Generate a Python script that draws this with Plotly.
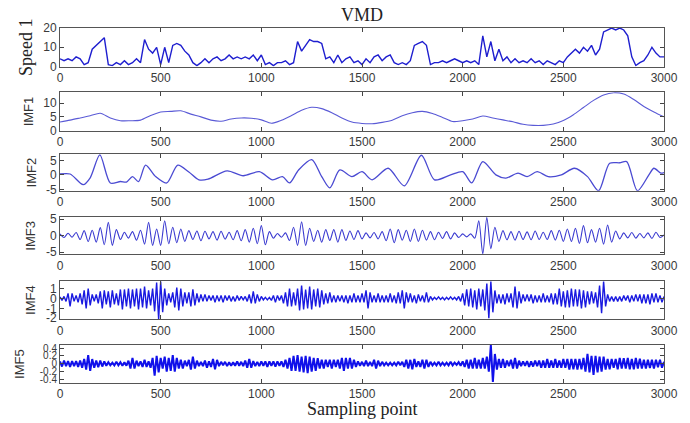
import plotly.graph_objects as go

# ---------------- data ----------------
speed_step = 20
speed1 = [4, 3, 4, 3, 5, 4, 1, 2, 9, 11, 13, 15, 1, 0.5, 2, 1, 3, 1, 2, 4,
          2, 14, 9, 7, 10, 1, 10, 2, 11, 12, 11, 8, 6, 2, 0.5, 2, 4, 2, 4, 5,
          3, 4, 6, 4, 5, 4, 5, 4, 6, 3, 6, 1, 2, 0.5, 2, 2, 3, 1, 2, 13,
          8, 11, 14, 13, 13, 12, 4, 5, 2, 6, 2, 4, 5, 2, 3, 1, 4, 2, 5, 6,
          3, 5, 6, 2, 1, 2, 1, 3, 11, 12, 13, 11, 1, 2, 2, 3, 2, 3, 4, 3,
          2, 3, 2, 3, 1, 16, 5, 13, 3, 9, 3, 5, 2, 4, 2, 3, 2, 4, 2, 3,
          1, 3, 2, 1, 3, 2, 5, 7, 9, 7, 10, 8, 11, 6, 9, 18, 19, 20, 19, 20,
          19, 16, 5, 0.5, 2, 3, 6, 10, 7, 5, 5]

imf1_step = 50
imf1 = [3.1, 3.8, 4.6, 5.4, 6.3, 4.6, 3.6, 3.6, 3.8, 5.5, 6.8, 7.0, 7.2, 6.0, 5.0,
        3.8, 3.4, 4.2, 4.6, 4.5, 3.9, 2.7, 3.8, 5.5, 7.4, 8.5, 8.0, 6.5, 4.6, 3.1,
        2.6, 2.5, 3.0, 3.8, 5.4, 6.5, 7.0, 6.2, 4.8, 3.3, 3.6, 4.2, 5.3, 4.6, 3.9,
        3.2, 2.3, 1.9, 1.9, 2.4, 3.7, 5.8, 8.4, 11.0, 13.0, 13.8, 13.3, 11.3, 8.8, 6.8,
        5.0]

imf2_x = [0, 50, 115, 150, 198, 250, 300, 330, 360, 390, 425, 475, 530, 585, 640,
          690, 735, 830, 910, 990, 1056, 1105, 1140, 1185, 1250, 1300, 1340, 1390,
          1450, 1500, 1550, 1630, 1710, 1795, 1860, 1940, 2000, 2045, 2100, 2165,
          2215, 2275, 2320, 2370, 2425, 2490, 2555, 2620, 2675, 2730, 2780, 2815,
          2868, 2925, 2950, 2985, 3000]
imf2_y = [0.3, 0.3, -3.4, -1.0, 6.9, -2.8, -2.3, -2.5, -0.6, -2.3, 3.4, -0.6, -2.8,
          3.4, 1.0, -1.7, -1.5, 1.4, -0.3, 1.1, -1.7, -0.6, -2.8, 1.7, 5.3, -0.6,
          -4.5, 1.7, -0.6, 1.1, -1.7, 2.3, -3.8, 6.8, -1.7, 0.0, 1.1, -2.8, 4.6,
          0.0, -1.1, 0.6, -0.6, 1.1, -0.6, 0.0, 2.3, -0.6, -5.5, 4.0, 4.2, 4.6,
          -5.5, 0.0, 2.3, 0.6, 0.8]

imf3_step = 20
imf3 = [0.5, -0.6, 0.7, -0.5, 0.9, -1.2, 1.5, -1.8, 1.6, -2.0,
        2.4, -2.8, 4.0, -3.0, 1.8, -1.2, 1.0, -0.8, 1.2, -1.4,
        1.6, -2.6, 4.0, -3.0, 2.0, -3.0, 4.5, -2.5, 2.5, -2.2,
        2.0, -1.8, 1.5, -1.2, 1.4, -1.6, 1.3, -1.0, 1.2, -1.4,
        1.3, -1.1, 1.0, -1.3, 1.5, -1.6, 1.8, -2.0, 2.2, -2.5,
        3.0, -2.8, 1.2, -0.8, 0.6, -0.5, 0.8, -1.5, 2.5, -3.0,
        4.2, -3.0, 2.2, -1.8, 1.6, -2.0, 1.8, -1.5, 1.8, -2.0,
        1.8, -1.5, 1.4, -1.2, 1.5, -1.0, 0.8, -0.7, 0.9, -1.0,
        1.2, -1.6, 2.0, -2.2, 1.8, -1.4, 1.6, -1.8, 2.0, -1.8,
        1.6, -1.4, 1.2, -1.3, 1.0, -0.9, 1.2, -1.0, 0.8, -0.6,
        0.5, -0.4, 0.5, -0.8, 4.5, -5.6, 5.5, -4.0, 2.5, -1.8,
        1.5, -1.3, 1.2, -1.4, 1.3, -1.2, 1.1, -1.3, 1.4, -1.2,
        1.0, -1.2, 1.5, -1.4, 1.6, -1.8, 2.0, -1.8, 2.2, -2.4,
        3.0, -2.2, 1.8, -2.0, 2.2, -2.6, 3.2, -2.0, 1.4, -1.0,
        0.8, -0.7, 0.9, -0.8, 0.6, -0.7, 0.8, -0.9, 1.0, -0.6,
        0.2]

imf4_step = 10
imf4 = [0.15, -0.2, 0.2, -0.3, 0.5, -0.8, 0.5, -0.3, 0.3, -0.4,
        0.5, -0.6, 0.8, -1.0, 1.0, -0.7, 0.4, -0.3, 0.4, -0.5,
        0.7, -1.0, 0.8, -0.6, 0.7, -0.9, 0.8, -0.6, 0.5, -0.7,
        0.9, -1.1, 0.9, -0.8, 1.0, -1.0, 0.9, -0.8, 1.0, -1.1,
        1.0, -0.9, 1.2, -1.0, 0.8, -0.7, 1.0, -1.3, 1.6, -2.1,
        1.7, -1.4, 1.0, -0.7, 0.5, -0.4, 0.6, -0.9, 1.1, -1.2,
        1.0, -0.8, 0.6, -0.5, 0.6, -0.8, 0.9, -0.7, 0.5, -0.4,
        0.4, -0.3, 0.4, -0.3, 0.3, -0.2, 0.3, -0.4, 0.3, -0.3,
        0.3, -0.4, 0.3, -0.2, 0.3, -0.3, 0.2, -0.3, 0.3, -0.2,
        0.2, -0.15, 0.2, -0.3, 0.4, -0.5, 0.7, -0.5, 0.4, -0.3,
        0.2, -0.15, 0.1, -0.15, 0.1, -0.2, 0.3, -0.4, 0.3, -0.2,
        0.3, -0.5, 0.6, -0.8, 1.0, -0.8, 0.6, -0.7, 1.0, -1.2,
        1.3, -1.1, 0.9, -1.0, 1.2, -1.1, 0.9, -0.8, 1.0, -0.9,
        0.8, -0.6, 0.5, -0.5, 0.6, -0.4, 0.3, -0.4, 0.3, -0.3,
        0.3, -0.4, 0.3, -0.5, 0.3, -0.4, 0.5, -0.4, 0.3, -0.4,
        0.5, -0.4, 0.8, -1.0, 0.6, -0.4, 0.3, -0.4, 0.5, -0.4,
        0.3, -0.4, 0.3, -0.4, 0.5, -0.4, 0.3, -0.5, 0.6, -0.5,
        0.8, -1.0, 0.6, -0.4, 0.5, -0.4, 0.3, -0.5, 0.4, -0.3,
        0.3, -0.4, 0.6, -0.4, 0.2, -0.15, 0.1, -0.1, 0.15, -0.1,
        0.1, -0.15, 0.1, -0.1, 0.15, -0.1, 0.1, -0.15, 0.2, -0.3,
        0.5, -0.7, 0.9, -0.8, 1.0, -0.9, 0.8, -1.1, 1.0, -0.8,
        0.9, -1.2, 1.5, -2.0, 1.7, -1.4, 0.8, -0.5, 0.4, -0.5,
        0.4, -0.6, 0.5, -0.4, 0.5, -0.9, 1.2, -1.0, 0.7, -0.5,
        0.4, -0.3, 0.4, -0.3, 0.4, -0.5, 0.3, -0.4, 0.3, -0.4,
        0.5, -0.4, 0.3, -0.4, 0.5, -0.6, 0.5, -0.6, 1.0, -0.8,
        0.7, -0.9, 0.8, -0.9, 1.0, -0.8, 0.9, -0.8, 0.9, -1.0,
        0.8, -0.9, 0.7, -0.6, 0.7, -0.5, 0.6, -0.9, 1.3, -1.5,
        1.7, -0.8, 0.4, -0.3, 0.2, -0.3, 0.2, -0.3, 0.2, -0.3,
        0.3, -0.2, 0.3, -0.4, 0.3, -0.3, 0.4, -0.3, 0.4, -0.5,
        0.4, -0.5, 0.4, -0.6, 0.5, -0.4, 0.5, -0.4, 0.3, -0.4,
        0.2]

imf5_step = 10
imf5 = [0.06, -0.07, 0.08, -0.06, 0.07, -0.08, 0.07, -0.06, 0.07, -0.08,
        0.08, -0.1, 0.12, -0.15, 0.22, -0.18, 0.12, -0.1, 0.08, -0.09,
        0.08, -0.07, 0.06, -0.05, 0.04, -0.04, 0.03, -0.04, 0.05, -0.04,
        0.04, -0.05, 0.04, -0.05, 0.08, -0.12, 0.15, -0.12, 0.08, -0.06,
        0.06, -0.08, 0.1, -0.08, 0.06, -0.1, 0.15, -0.3, 0.2, -0.22,
        0.15, -0.12, 0.18, -0.2, 0.15, -0.18, 0.22, -0.2, 0.15, -0.12,
        0.1, -0.12, 0.08, -0.06, 0.1, -0.15, 0.18, -0.12, 0.08, -0.06,
        0.05, -0.06, 0.08, -0.1, 0.06, -0.08, 0.12, -0.14, 0.1, -0.06,
        0.05, -0.04, 0.05, -0.06, 0.04, -0.05, 0.04, -0.05, 0.06, -0.05,
        0.05, -0.06, 0.08, -0.1, 0.12, -0.1, 0.07, -0.06, 0.05, -0.06,
        0.06, -0.05, 0.06, -0.08, 0.06, -0.05, 0.06, -0.07, 0.06, -0.05,
        0.06, -0.08, 0.1, -0.12, 0.15, -0.18, 0.2, -0.18, 0.22, -0.2,
        0.18, -0.22, 0.2, -0.24, 0.18, -0.2, 0.15, -0.18, 0.14, -0.12,
        0.1, -0.12, 0.1, -0.08, 0.1, -0.12, 0.1, -0.08, 0.1, -0.12,
        0.15, -0.18, 0.15, -0.12, 0.15, -0.12, 0.1, -0.08, 0.06, -0.05,
        0.05, -0.06, 0.08, -0.06, 0.05, -0.06, 0.1, -0.12, 0.08, -0.06,
        0.05, -0.04, 0.03, -0.04, 0.03, -0.04, 0.03, -0.04, 0.05, -0.04,
        0.05, -0.08, 0.1, -0.12, 0.1, -0.14, 0.12, -0.08, 0.06, -0.08,
        0.1, -0.12, 0.1, -0.08, 0.05, -0.04, 0.03, -0.04, 0.05, -0.04,
        0.03, -0.04, 0.03, -0.04, 0.05, -0.04, 0.03, -0.03, 0.04, -0.05,
        0.06, -0.08, 0.1, -0.12, 0.1, -0.12, 0.15, -0.12, 0.1, -0.12,
        0.15, -0.12, 0.18, -0.2, 0.48, -0.46, 0.25, -0.15, 0.12, -0.1,
        0.12, -0.1, 0.08, -0.06, 0.1, -0.12, 0.15, -0.12, 0.08, -0.06,
        0.06, -0.05, 0.07, -0.08, 0.06, -0.07, 0.08, -0.06, 0.08, -0.1,
        0.08, -0.1, 0.12, -0.1, 0.08, -0.1, 0.12, -0.1, 0.08, -0.1,
        0.12, -0.1, 0.12, -0.15, 0.12, -0.14, 0.12, -0.15, 0.12, -0.14,
        0.15, -0.2, 0.25, -0.22, 0.2, -0.28, 0.2, -0.22, 0.18, -0.2,
        0.18, -0.15, 0.12, -0.14, 0.12, -0.1, 0.12, -0.14, 0.15, -0.12,
        0.14, -0.12, 0.15, -0.14, 0.12, -0.14, 0.15, -0.12, 0.13, -0.12,
        0.1, -0.12, 0.1, -0.11, 0.1, -0.12, 0.1, -0.09, 0.1, -0.1,
        0.05]

panel_names = ["Speed 1", "IMF1", "IMF2", "IMF3", "IMF4", "IMF5"]
y_ranges = [[0, 20], [0, 14], [-5.5, 7.2], [-5.7, 5.6], [-2.1, 1.75], [-0.48, 0.48]]
y_ticks = [[0, 10, 20], [0, 5, 10], [-5, 0, 5], [-5, 0, 5], [-2, -1, 0, 1],
           [-0.4, -0.2, 0, 0.2, 0.4]]
y_ticktext = [["0", "10", "20"], ["0", "5", "10"], ["-5", "0", "5"], ["-5", "0", "5"],
              ["-2", "-1", "0", "1"], ["-0.4", "-0.2", "0", "0.2", "0.4"]]
x_ticks = [0, 500, 1000, 1500, 2000, 2500, 3000]

# ---------------- figure ----------------
series = [
    (list(range(0, speed_step * len(speed1), speed_step)), speed1, "#1e1ecf", 1.4, "linear"),
    (list(range(0, imf1_step * len(imf1), imf1_step)), imf1, "#5a5ad6", 1.1, "spline"),
    (imf2_x, imf2_y, "#4a4ad2", 1.3, "spline"),
    (list(range(0, imf3_step * len(imf3), imf3_step)), imf3, "#3a3ad0", 1.1, "spline"),
    (list(range(0, imf4_step * len(imf4), imf4_step)), imf4, "#1a1ae0", 1.4, "linear"),
    (list(range(0, imf5_step * len(imf5), imf5_step)), imf5, "#1010ea", 2.0, "linear"),
]

# panel vertical extents (paper fractions)
domains = [[0.889, 0.997], [0.709, 0.817], [0.540, 0.643],
           [0.3615, 0.466], [0.179, 0.2865], [0.001, 0.107]]
label_x = [-0.055, -0.053, -0.048, -0.048, -0.05, -0.066]

fig = go.Figure()
tick_font = dict(family="Liberation Sans, Arial, sans-serif", size=12, color="#3a3a3a")
small_tick_font = dict(family="Liberation Sans, Arial, sans-serif", size=10, color="#3a3a3a")
layout = dict(
    width=690, height=423,
    margin=dict(l=60, r=13, t=27, b=40),
    paper_bgcolor="white", plot_bgcolor="white",
    showlegend=False,
)
annotations = []
for i, (xs, ys, col, w, shape) in enumerate(series):
    sfx = "" if i == 0 else str(i + 1)
    fig.add_trace(go.Scatter(x=xs, y=ys, mode="lines",
                             line=dict(color=col, width=w, shape=shape, smoothing=0.8),
                             xaxis="x" + sfx, yaxis="y" + sfx, hoverinfo="skip"))
    layout["xaxis" + sfx] = dict(
        domain=[0, 1], anchor="y" + sfx, range=[0, 3000],
        tickvals=x_ticks, ticks="inside", ticklen=4, tickcolor="#444",
        showline=True, linecolor="#555", linewidth=1, mirror="ticks",
        showgrid=False, zeroline=False, tickfont=tick_font,
        ticklabeloverflow="allow")
    layout["yaxis" + sfx] = dict(
        domain=domains[i], anchor="x" + sfx, range=y_ranges[i],
        tickvals=y_ticks[i], ticktext=y_ticktext[i], ticks="inside", ticklen=4,
        tickcolor="#444", showline=True, linecolor="#555", linewidth=1,
        mirror="ticks", showgrid=False, zeroline=False,
        tickfont=small_tick_font if i == 5 else tick_font)
    ymid = (domains[i][0] + domains[i][1]) / 2
    if i == 0:
        fnt = dict(family="Liberation Serif, Times New Roman, serif", size=18, color="#222")
    else:
        fnt = dict(family="Liberation Sans, Arial, sans-serif", size=13, color="#333")
    annotations.append(dict(text=panel_names[i], x=label_x[i], y=ymid, xref="paper",
                            yref="paper", textangle=-90, showarrow=False,
                            xanchor="center", yanchor="middle", font=fnt))

annotations.append(dict(text="VMD", x=0.5, y=1.034, xref="paper", yref="paper",
                        showarrow=False, xanchor="center", yanchor="middle",
                        font=dict(family="Liberation Serif, Times New Roman, serif",
                                  size=18, color="#222")))
annotations.append(dict(text="Sampling point", x=0.5, y=-0.073, xref="paper", yref="paper",
                        showarrow=False, xanchor="center", yanchor="middle",
                        font=dict(family="Liberation Serif, Times New Roman, serif",
                                  size=18, color="#222")))
layout["annotations"] = annotations
fig.update_layout(**layout)
fig.write_html("out.html", config={"displayModeBar": False},
               post_script="document.body.style.margin='0';document.body.style.padding='0';")
